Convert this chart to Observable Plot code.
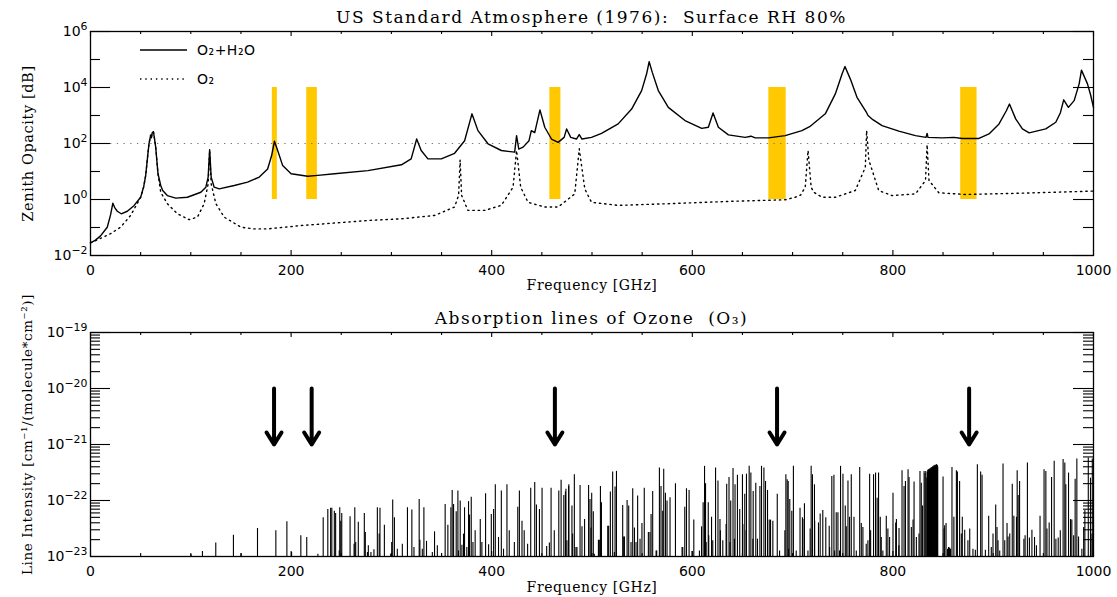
<!DOCTYPE html>
<html>
<head>
<meta charset="utf-8">
<script src="https://cdn.jsdelivr.net/npm/d3@7"></script>
<script src="https://cdn.jsdelivr.net/npm/@observablehq/plot@0.6"></script>
<style>
  html, body { margin: 0; padding: 0; background: #fff; }
  #wrap { position: relative; width: 1117px; height: 597px; overflow: hidden; color: #000; font-family: "DejaVu Serif", serif; }
  #wrap svg { position: absolute; left: 0; display: block; }
  #wrap svg g[aria-label="x-axis label"] text, #wrap svg g[aria-label="y-axis label"] text { letter-spacing: 0.6px; }
  .title { position: absolute; left: 90px; width: 1003px; text-align: center; white-space: pre; font-size: 17px; letter-spacing: 1.5px; line-height: 18px; }
  .legend { position: absolute; left: 140px; height: 18px; line-height: 18px; display: flex; align-items: center; font-family: "DejaVu Sans", sans-serif; font-size: 14px; letter-spacing: 0.5px; }
  .legend svg { position: static !important; margin-right: 10px; }
</style>
</head>
<body>
<div id="wrap"></div>
<script>
// ---------------- DATA ----------------
// Zenith opacity, O2 + H2O  [frequency GHz, log10(opacity dB)]
const o2h2oOpacity = [
  [0,-1.55],[5,-1.45],[10,-1.30],[16.7,-0.99],[20,-0.55],[22.3,-0.13],[24,-0.28],[26.7,-0.42],[30.7,-0.51],
  [36.7,-0.42],[43.3,-0.22],[50,0.08],[53,0.45],[55,0.85],[57,1.55],[58.3,1.99],[60,2.30],[60.7,2.20],
  [61.5,2.38],[62.7,2.42],[63.5,2.25],[65,1.87],[67.3,0.92],[70,0.50],[72,0.32],[76.6,0.14],[85,0.05],
  [96.6,0.08],[110,0.26],[115,0.44],[117.3,0.80],[118.8,1.78],[120.3,0.80],[123.3,0.44],[128.3,0.38],
  [143.3,0.50],[156.6,0.62],[168.3,0.80],[176.6,1.09],[180.6,1.57],[183.4,2.08],[187.2,1.69],[191.6,1.21],
  [200,0.92],[216.6,0.83],[226.6,0.86],[243.3,0.92],[276.6,1.03],[310,1.24],[319.7,1.45],[325.2,2.16],
  [329.7,1.75],[336.4,1.45],[349.7,1.45],[363,1.65],[373,2.10],[380.3,3.06],[386.3,2.46],[396.3,1.99],
  [409.6,1.75],[422.9,1.69],[424.8,2.28],[427,1.80],[431.3,1.87],[437.2,2.10],[439.5,2.46],[442.9,2.39],
  [448.1,3.20],[452.9,2.58],[459.6,2.16],[466.2,2.04],[472.2,2.22],[474.7,2.52],[478.8,2.22],[484.5,2.16],
  [487.3,2.32],[490,2.16],[499.5,2.22],[509.5,2.36],[526.1,2.70],[539.5,3.23],[549.5,3.89],[554.4,4.48],
  [557,4.92],[560.1,4.54],[566.1,3.89],[576.1,3.29],[592.7,2.82],[609.4,2.54],[616,2.58],[620.7,3.09],
  [626,2.58],[636,2.31],[652.7,2.22],[658.5,2.26],[662.7,2.20],[676,2.20],[692.6,2.28],[709.3,2.46],
  [717,2.60],[732.6,3.06],[742.6,3.77],[749.3,4.48],[752.2,4.75],[757.6,4.30],[764.2,3.65],[773.8,3.10],
  [775.2,3.00],[780,2.85],[789.2,2.64],[805.9,2.44],[822.5,2.28],[833,2.22],[834.1,2.36],[835,2.22],
  [849.2,2.20],[860.8,2.22],[869.1,2.18],[885.8,2.18],[895.8,2.34],[905.8,2.70],[913.1,3.17],[916.2,3.41],
  [922.4,2.88],[929.1,2.52],[935.8,2.38],[952.4,2.52],[962.4,2.76],[967,3.10],[970.3,3.56],[975,3.29],
  [980.7,3.53],[985.7,4.13],[988,4.62],[994,4.13],[997,3.75],[1000,3.29]
];
// Zenith opacity, O2 only  [frequency GHz, log10(opacity dB)]
const o2Opacity = [
  [0,-1.55],[10,-1.39],[20,-1.22],[30,-0.99],[40,-0.57],[50,0.08],[53,0.45],[55,0.85],[57,1.55],[58.3,1.99],
  [60,2.30],[60.7,2.20],[61.5,2.38],[62.7,2.42],[63.5,2.25],[65,1.87],[67.3,0.92],[70,0.26],[76.6,-0.15],
  [86.6,-0.51],[98.3,-0.72],[106.6,-0.63],[113.3,-0.15],[117.3,0.56],[118.8,1.75],[120.3,0.56],[125,-0.15],
  [133.3,-0.63],[150,-0.99],[163.3,-1.05],[176.7,-1.05],[210,-0.93],[243.3,-0.84],[276.6,-0.75],[310,-0.69],
  [343,-0.57],[363,-0.27],[367,0.15],[368.5,1.41],[370,0.15],[376.3,-0.39],[392.9,-0.39],[409.6,-0.21],
  [421.3,0.44],[424.8,1.75],[428.9,0.44],[436.2,-0.10],[452.9,-0.27],[466.2,-0.27],[482.8,0.20],[487.3,1.81],
  [492.8,0.38],[499.5,-0.10],[526.1,-0.21],[576,-0.15],[642.6,-0.06],[692.6,-0.01],[702.6,0.08],[708,0.16],
  [712.6,0.44],[715.4,1.75],[718.5,0.44],[721,0.26],[729.3,0.08],[742.6,0.08],[762.5,0.32],[772.5,1.15],
  [773.8,2.46],[776,1.41],[785.9,0.32],[799.2,0.14],[822.5,0.20],[832.5,0.68],[834.1,1.96],[836,0.68],
  [845.8,0.24],[872.4,0.18],[922.4,0.22],[1000,0.30]
];
// Highlighted frequency bands [GHz]
const bandLow  = [181.3, 215.6, 458.0, 676.3, 867.6];
const bandHigh = [186.3, 226.2, 469.0, 693.6, 883.9];
const bandOpacityRange = [1, 1e4];
const referenceOpacity = 100;

// Ozone absorption lines [frequency GHz, log10(line intensity)]
const ozoneLines = [
  [100.3,-22.97],[111.6,-22.91],[124.9,-22.76],[142.5,-22.62],[150.2,-22.95],[166.5,-22.50],[184.8,-22.54],
  [195.8,-22.38],[200.5,-22.93],[209.7,-22.63],[215.6,-22.66],[226.7,-22.96],
  [232.0,-22.31],[236.6,-22.16],[239.4,-22.14],[240.6,-22.14],[243.1,-22.19],[244.4,-22.23],[248.0,-22.90],[248.5,-22.13],
  [249.5,-22.37],[250.5,-22.23],[258.8,-22.29],[262.8,-22.78],[263.5,-22.13],[264.4,-22.75],[267.0,-22.39],[273.0,-22.23],
  [274.0,-22.57],[276.1,-22.93],[277.0,-22.81],[279.6,-22.93],[282.6,-22.88],[286.0,-22.13],[287.8,-22.60],[288.6,-22.14],[293.0,-22.44],
  [299.3,-22.96],[300.3,-22.75],[301.3,-21.99],[303.0,-22.31],[305.9,-22.87],[310.9,-22.78],[316.0,-22.13],[320.4,-22.17],[322.5,-22.84],[327.7,-21.98],
  [328.4,-22.71],[330.8,-22.87],[332.4,-22.13],[335.0,-22.73],[340.8,-22.93],[343.0,-22.56],[345.8,-22.81],[350.0,-22.95],[353.6,-22.07],[356.3,-22.44],
  [359.3,-22.13],[360.6,-21.82],[362.0,-22.07],[364.6,-22.20],[366.3,-21.83],[366.9,-22.90],[368.6,-22.01],[370.3,-22.80],[371.9,-22.60],
  [372.9,-22.13],[375.2,-22.84],[376.9,-22.02],[377.9,-22.26],[379.6,-21.94],[381.3,-22.75],[383.5,-22.54],[388.6,-22.34],[390.2,-22.75],[393.9,-21.88],
  [396.9,-22.79],[399.6,-22.25],[401.9,-22.16],[403.6,-21.72],[406.8,-22.66],[409.6,-21.83],[411.8,-22.87],[415.2,-21.72],[417.5,-22.54],[422.6,-22.75],
  [426.0,-22.12],[427.6,-21.83],[430.2,-22.37],[432.4,-22.54],[435.8,-22.78],[438.9,-21.78],[442.9,-21.68],[444.6,-22.08],[447.6,-22.16],
  [450.2,-21.78],[454.8,-22.82],[457.5,-22.76],[459.2,-21.78],[462.4,-22.54],[466.9,-21.83],[469.2,-21.64],[471.9,-21.91],
  [473.5,-21.85],[474.0,-21.80],[475.0,-22.72],[476.7,-21.75],[476.9,-21.72],[480.0,-22.10],[480.7,-22.60],[482.4,-21.54],[484.0,-22.84],[485.0,-22.84],
  [488.1,-21.73],[490.0,-22.47],[492.6,-22.34],[496.6,-21.73],[498.0,-21.98],[499.0,-22.49],[499.7,-21.87],[501.3,-22.20],[502.3,-22.96],
  [506.4,-22.71],[507.3,-22.71],[508.4,-21.75],[509.4,-22.04],[515.7,-22.46],[516.6,-22.46],[518.3,-21.85],[520.6,-21.49],[522.3,-22.93],[523.0,-21.76],
  [524.4,-21.48],[530.6,-22.09],[531.6,-22.65],[532.3,-22.65],[535.0,-22.00],[536.6,-22.10],[538.9,-22.75],[540.6,-21.79],[542.3,-22.49],[543.9,-22.75],
  [545.5,-21.92],[547.9,-22.69],[549.8,-22.41],[552.1,-21.78],[556.2,-22.57],[557.8,-22.57],[558.9,-22.25],[560.5,-21.84],[563.9,-22.90],[564.5,-22.90],[567.2,-21.42],
  [568.8,-21.75],[570.5,-22.19],[571.5,-21.44],[573.2,-21.87],[574.8,-22.01],[577.8,-21.95],[583.2,-21.70],[589.8,-22.84],[590.5,-22.84],
  [592.5,-22.12],[594.2,-21.79],[596.8,-21.82],[599.8,-22.91],[601.5,-22.35],[607.1,-22.90],[609.2,-22.47],[610.8,-22.04],[612.2,-21.39],
  [613.2,-21.70],[613.8,-22.75],[615.9,-22.04],[616.4,-22.63],[619.2,-22.30],[620.4,-22.72],[623.2,-21.42],[625.6,-21.65],[627.6,-22.34],[628.0,-22.54],
  [630.4,-22.72],[633.7,-22.43],[634.3,-21.71],
  [636.6,-21.59],[637.5,-22.75],[638.3,-22.01],[640.6,-21.43],[642.0,-22.69],[642.6,-21.72],[645.0,-21.55],[647.3,-22.16],[650.0,-21.54],[650.4,-22.43],
  [652.3,-21.89],[653.7,-22.54],[654.0,-21.53],[656.7,-21.39],[658.4,-21.51],[660.4,-22.69],[660.7,-21.84],[663.3,-21.69],[665.0,-22.69],
  [667.4,-21.75],[669.0,-21.39],[671.4,-21.42],[673.0,-21.66],[675.0,-21.82],[676.7,-22.35],[678.0,-22.35],[680.3,-22.37],
  [684.7,-21.89],[687.0,-22.90],[692.3,-22.54],[693.3,-21.54],[694.6,-21.63],[695.6,-21.66],[696.0,-22.87],[697.2,-21.98],[699.2,-22.19],
  [700.8,-21.39],[703.6,-22.90],[707.4,-22.14],[709.8,-22.31],[710.3,-22.34],[711.8,-22.06],[715.3,-22.90],[717.5,-22.51],[718.5,-21.39],[719.8,-21.54],
  [721.8,-21.72],[722.0,-22.37],[725.8,-22.40],[727.5,-22.24],[730.1,-22.18],[733.1,-22.31],[736.5,-22.46],[736.9,-22.84],[739.1,-21.57],
  [741.2,-21.55],[741.9,-22.90],[743.5,-22.22],[745.2,-22.22],[746.8,-22.90],[747.8,-21.39],[750.2,-21.53],[752.5,-22.10],[753.5,-22.47],
  [755.2,-21.65],[756.8,-22.30],[758.5,-21.54],[761.2,-22.30],[763.5,-22.90],[766.9,-21.41],[768.5,-22.41],[770.1,-22.48],[773.4,-22.78],[775.1,-22.72],
  [776.8,-21.53],[777.8,-22.54],[780.7,-21.54],[782.7,-21.51],[784.3,-21.96],[785.7,-21.51],[787.4,-22.30],[788.4,-22.66],
  [790.0,-22.90],[793.4,-22.28],[795.0,-22.51],[796.7,-22.66],[800.1,-21.87],[802.8,-22.40],[803.5,-22.34],[805.9,-22.81],[806.1,-22.50],[809.1,-21.47],
  [811.1,-21.75],[812.5,-21.66],[815.1,-21.45],[816.1,-21.59],[818.4,-22.48],[820.1,-22.35],[821.1,-21.67],[823.4,-22.66],[826.0,-22.60],
  [827.0,-21.48],[828.3,-21.69],[829.6,-22.10],[831.1,-21.48],[832.0,-21.52],[832.8,-21.48],[833.8,-21.60],
  [834.3,-21.50],[834.7,-21.46],[835.1,-21.49],[835.5,-21.45],[835.9,-21.47],[836.3,-21.44],[836.7,-21.46],
  [837.1,-21.43],[837.5,-21.45],[837.9,-21.42],[838.3,-21.44],[838.7,-21.41],[839.1,-21.43],[839.5,-21.40],
  [839.9,-21.42],[840.3,-21.39],[840.7,-21.41],[841.1,-21.38],[841.5,-21.40],[841.9,-21.37],[842.3,-21.39],
  [842.7,-21.37],[843.1,-21.38],[843.5,-21.36],[843.9,-21.37],[844.3,-21.38],[844.7,-21.40],
  [850.0,-21.58],[851.0,-22.51],[851.6,-22.45],[853.0,-22.41],[854.5,-22.87],[855.5,-22.84],[856.5,-22.85],[857.5,-22.87],
  [858.9,-21.41],[860.8,-22.30],[863.3,-21.47],[864.3,-21.49],[866.5,-21.66],[868.2,-22.60],[869.2,-22.30],[871.6,-22.53],[874.8,-22.72],
  [876.6,-22.51],[879.8,-22.87],[882.2,-22.89],[884.2,-21.36],[887.5,-21.49],[888.9,-21.55],[892.2,-22.89],[895.5,-22.28],
  [898.1,-22.84],[899.8,-22.60],[902.5,-22.08],[903.8,-22.48],[904.8,-22.72],[906.5,-22.90],[909.8,-21.35],[911.5,-22.72],[913.8,-22.41],
  [914.8,-22.65],[916.5,-22.60],[919.0,-21.71],[920.6,-22.28],[923.2,-22.30],[923.9,-21.47],[924.9,-21.91],[926.3,-21.66],[930.6,-22.69],[931.8,-22.63],
  [934.1,-21.33],[936.1,-22.67],[938.6,-22.53],[941.2,-22.66],[943.1,-22.81],[946.7,-22.28],[950.7,-21.45],[952.5,-21.48],[953.6,-22.51],
  [955.8,-22.40],[958.2,-21.59],[960.8,-21.30],[962.5,-22.69],[964.8,-22.67],[966.9,-22.54],[969.7,-21.27],[971.4,-21.33],
  [972.4,-21.72],[975.1,-21.51],[977.1,-22.34],[978.4,-22.35],[980.2,-22.63],[981.7,-21.62],[983.4,-21.26],[985.1,-22.65],
  [988.4,-22.87],[990.2,-22.48],[991.4,-22.18],[994.8,-21.24],[997.0,-21.60],[998.5,-22.60],[998.8,-21.26]
];
const ozoneFloor = 1e-23;
// Arrows marking the bands in the ozone panel
const arrowFreqs = [183, 220.5, 463, 684.5, 876];
const arrowFrom = 1e-20, arrowTo = 1e-21;

// Ticks and labels
const xTickValues = [0, 200, 400, 600, 800, 1000];
const xTickLabels = ["0", "200", "400", "600", "800", "1000"];
const xMinorTicks = [50, 100, 150, 250, 300, 350, 450, 500, 550, 650, 700, 750, 850, 900, 950];
const topYTickValues = [1e-2, 1e0, 1e2, 1e4, 1e6];
const topYTickLabels = ["10⁻²", "10⁰", "10²", "10⁴", "10⁶"];
const topYMinorTicks = [1e-1, 1e1, 1e3, 1e5];
const botYTickValues = [1e-23, 1e-22, 1e-21, 1e-20, 1e-19];
const botYTickLabels = ["10⁻²³", "10⁻²²", "10⁻²¹", "10⁻²⁰", "10⁻¹⁹"];

const topTitle = "US Standard Atmosphere (1976):  Surface RH 80%";
const botTitle = "Absorption lines of Ozone  (O₃)";
const xLabel = "Frequency [GHz]";
const topYLabel = "Zenith Opacity [dB]";
const botYLabel = "Line Intensity [cm⁻¹/(molecule*cm⁻²)]";
const legendLabels = ["O₂+H₂O", "O₂"];

// ---------------- BUILD ----------------
const W = 1117;
const M = {left: 90, right: 24};
const innerW = W - M.left - M.right;
const SERIF = "DejaVu Serif";
const SANS = "DejaVu Sans";

const rowsFromLog = pairs => pairs.map(([f, e]) => ({f, v: Math.pow(10, e)}));
const totRows = rowsFromLog(o2h2oOpacity);
const o2Rows = rowsFromLog(o2Opacity);
const bandRows = bandLow.map((lo, i) => ({lo, hi: bandHigh[i], bottom: bandOpacityRange[0], top: bandOpacityRange[1]}));
const spikeRows = rowsFromLog(ozoneLines);

const botYMinorTicks = [];
for (let e = -23; e < -19; e++) for (let k = 2; k <= 9; k++) botYMinorTicks.push(k * Math.pow(10, e));

function boxTicks(innerH, xMajor, xMinor, yMajor, yMinor, yMajLen, yMinLen) {
  const st = {stroke: "#000", strokeWidth: 1.1};
  return [
    Plot.ruleX(xMajor, {...st, insetTop: innerH - 5}),
    Plot.ruleX(xMinor, {...st, insetTop: innerH - 3}),
    Plot.ruleX(xMajor, {...st, insetBottom: innerH - 5}),
    Plot.ruleX(xMinor, {...st, insetBottom: innerH - 3}),
    Plot.ruleY(yMajor, {...st, insetRight: innerW - yMajLen}),
    Plot.ruleY(yMinor, {...st, insetRight: innerW - yMinLen}),
    Plot.ruleY(yMajor, {...st, insetLeft: innerW - yMajLen}),
    Plot.ruleY(yMinor, {...st, insetLeft: innerW - yMinLen})
  ];
}

function axes(yTicks, yLabels, yLabel, yLabelSize, xLabelOffset) {
  return [
    Plot.axisX({ticks: xTickValues, tickSize: 0, tickPadding: 10, label: null,
      tickFormat: d => xTickLabels[xTickValues.indexOf(d)], fontFamily: SANS, fontSize: 14}),
    Plot.axisX({ticks: [], tickSize: 0, label: xLabel, labelAnchor: "center", labelArrow: "none",
      labelOffset: xLabelOffset, fontFamily: SERIF, fontSize: 14}),
    Plot.axisY({ticks: yTicks, tickSize: 0, tickPadding: 3, label: null,
      tickFormat: d => yLabels[yTicks.indexOf(d)], fontFamily: SANS, fontSize: 14}),
    Plot.axisY({ticks: [], tickSize: 0, label: yLabel, labelAnchor: "center", labelArrow: "none",
      labelOffset: 68, fontFamily: SERIF, fontSize: yLabelSize})
  ];
}

const topH = 290, topMT = 31, topMB = 35;
const topInnerH = topH - topMT - topMB;
const topPlot = Plot.plot({
  width: W, height: topH,
  marginTop: topMT, marginBottom: topMB, marginLeft: M.left, marginRight: M.right,
  x: {domain: [0, 1000]},
  y: {type: "log", domain: [1e-2, 1e6]},
  style: {fontFamily: SERIF, fontSize: "14px", background: "transparent", color: "#000", overflow: "visible"},
  marks: [
    Plot.rect(bandRows, {x1: "lo", x2: "hi", y1: "bottom", y2: "top", fill: "#FFC800"}),
    Plot.ruleY([referenceOpacity], {stroke: "#777", strokeWidth: 1.2, strokeDasharray: "1.3,5.4"}),
    Plot.line(o2Rows, {x: "f", y: "v", stroke: "#000", strokeWidth: 1.4, strokeDasharray: "1.4,3.9"}),
    Plot.line(totRows, {x: "f", y: "v", stroke: "#000", strokeWidth: 1.4}),
    ...boxTicks(topInnerH, xTickValues, xMinorTicks, topYTickValues, topYMinorTicks, 20, 10),
    Plot.frame({stroke: "#000", strokeWidth: 1.3}),
    ...axes(topYTickValues, topYTickLabels, topYLabel, 14.5, 34)
  ]
});

const botH = 307, botMT = 42, botMB = 41;
const botInnerH = botH - botMT - botMB;
const botPlot = Plot.plot({
  width: W, height: botH,
  marginTop: botMT, marginBottom: botMB, marginLeft: M.left, marginRight: M.right,
  x: {domain: [0, 1000]},
  y: {type: "log", domain: [1e-23, 1e-19]},
  style: {fontFamily: SERIF, fontSize: "14px", background: "transparent", color: "#000", overflow: "visible"},
  marks: [
    Plot.ruleX(spikeRows, {x: "f", y1: () => ozoneFloor, y2: "v", stroke: "#000", strokeWidth: 1.1}),
    Plot.arrow(arrowFreqs, {x1: d => d, x2: d => d, y1: () => arrowFrom, y2: () => arrowTo,
      stroke: "#000", strokeWidth: 4, headLength: 5.3, headAngle: 64}),
    ...boxTicks(botInnerH, xTickValues, xMinorTicks, botYTickValues, botYMinorTicks, 20, 10),
    Plot.frame({stroke: "#000", strokeWidth: 1.3}),
    ...axes(botYTickValues, botYTickLabels, botYLabel, 13.5, 35)
  ]
});

// Turn unicode superscript exponents into raised tspans (still real text)
const supMap = {"⁻": "−", "⁰": "0", "¹": "1", "²": "2", "³": "3", "⁴": "4", "⁵": "5", "⁶": "6", "⁷": "7", "⁸": "8", "⁹": "9"};
function raiseExponents(svg) {
  svg.querySelectorAll('g[aria-label="y-axis tick label"] text').forEach(t => {
    const m = t.textContent.match(/^10(.+)$/);
    if (!m) return;
    const exp = [...m[1]].map(c => supMap[c] ?? c).join("");
    t.textContent = "10";
    const ts = document.createElementNS("http://www.w3.org/2000/svg", "tspan");
    ts.setAttribute("dy", "-0.55em");
    ts.setAttribute("font-size", "78%");
    ts.textContent = exp;
    t.appendChild(ts);
  });
}
raiseExponents(topPlot);
raiseExponents(botPlot);

// The ozone panel's y label sits a little above the frame centre in the reference
const botYLabelG = botPlot.querySelector('g[aria-label="y-axis label"]');
if (botYLabelG) {
  const tr = botYLabelG.getAttribute("transform") || "";
  botYLabelG.setAttribute("transform", ("translate(0,-10) " + tr).trim());
}

const wrap = document.getElementById("wrap");
topPlot.style.top = "0px";
botPlot.style.top = "290px";
wrap.appendChild(topPlot);
wrap.appendChild(botPlot);

function addTitle(text, top) {
  const d = document.createElement("div");
  d.className = "title";
  d.style.top = top + "px";
  d.textContent = text;
  wrap.appendChild(d);
}
addTitle(topTitle, 8);
addTitle(botTitle, 309);

// Legend (top panel)
const legendDash = [null, "1.4,3.9"];
legendLabels.forEach((lab, i) => {
  const row = document.createElement("div");
  row.className = "legend";
  row.style.top = (41 + i * 29) + "px";
  const sw = document.createElementNS("http://www.w3.org/2000/svg", "svg");
  sw.setAttribute("width", "47"); sw.setAttribute("height", "6");
  const ln = document.createElementNS("http://www.w3.org/2000/svg", "line");
  ln.setAttribute("x1", "0"); ln.setAttribute("x2", "47"); ln.setAttribute("y1", "3"); ln.setAttribute("y2", "3");
  ln.setAttribute("stroke", "#000"); ln.setAttribute("stroke-width", "1.4");
  if (legendDash[i]) ln.setAttribute("stroke-dasharray", legendDash[i]);
  sw.appendChild(ln);
  const sp = document.createElement("span");
  sp.textContent = lab;
  row.appendChild(sw);
  row.appendChild(sp);
  wrap.appendChild(row);
});
</script>
</body>
</html>
